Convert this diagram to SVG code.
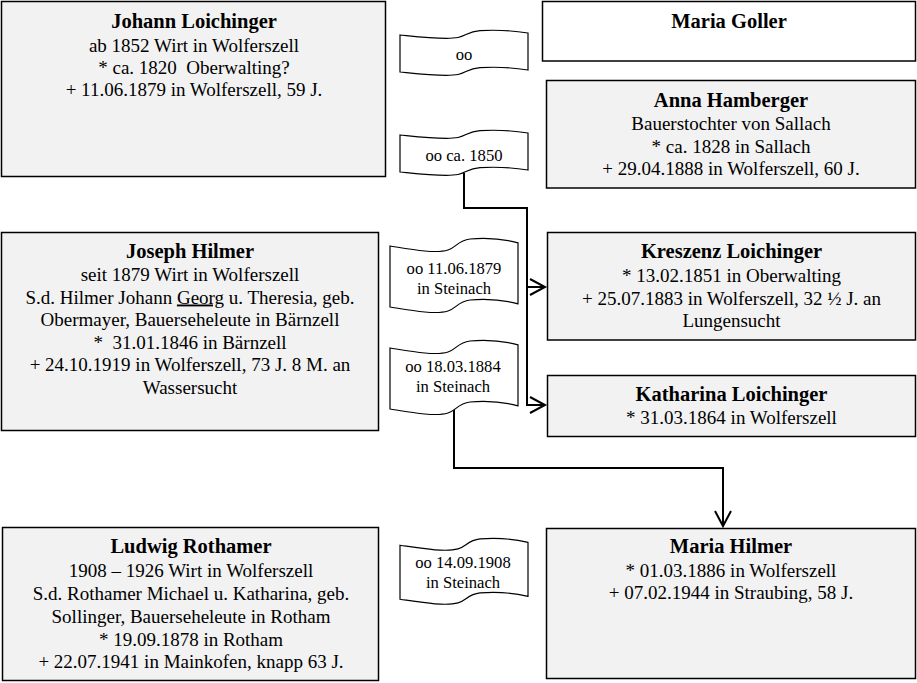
<svg xmlns="http://www.w3.org/2000/svg" width="917" height="683" viewBox="0 0 917 683">
<style>
.box{fill:#f2f2f2;stroke:#000;stroke-width:1.5}
.white{fill:#fff}
.ban{fill:#fff;stroke:#000;stroke-width:1.2}
text{font-family:"Liberation Serif","Times New Roman",serif;fill:#000;text-anchor:middle}
.t{font-size:20.5px;font-weight:bold}
.b{font-size:19px;white-space:pre}
.s{font-size:16.6px}
.con{fill:none;stroke:#000;stroke-width:2}
</style>
<defs>
<marker id="arr" viewBox="-17 -10 20 20" refX="0" refY="0" markerWidth="20" markerHeight="20" markerUnits="userSpaceOnUse" orient="auto">
<path d="M-15,-8 L0,0 L-15,8" fill="none" stroke="#000" stroke-width="2"/>
</marker>
<path id="banS" d="M0,5 C20,7 45,10 58,7.5 C66,6 68,1.5 80,0.6 C98,-0.3 116,1 128,3 L128,40 C116,38 98,36.7 80,37.6 C68,38.5 66,43 58,44.5 C45,47 20,44 0,42 Z"/>
<path id="banL" d="M0,8 C20,11.2 45,16 58,12 C66,9.6 68,2.4 80,1 C98,-0.5 116,1.6 128,4.8 L128,65.8 C116,62.6 98,60.5 80,62 C68,63.4 66,70.6 58,73 C45,77 20,72.2 0,69 Z"/>
<path id="banM" d="M0,7.25 C20,10.15 45,14.5 58,10.9 C66,8.7 68,2.2 80,0.9 C98,-0.4 116,1.45 128,4.35 L128,58.35 C116,55.45 98,53.6 80,54.9 C68,56.2 66,62.7 58,64.9 C45,68.5 20,64.15 0,61.25 Z"/>
</defs>

<g id="johann">
<rect class="box" x="1.5" y="1.5" width="384" height="175"/>
<text class="t" x="194" y="28">Johann Loichinger</text>
<text class="b" x="194" y="52">ab 1852 Wirt in Wolferszell</text>
<text class="b" x="194" y="74">* ca. 1820  Oberwalting?</text>
<text class="b" x="194" y="96">+ 11.06.1879 in Wolferszell, 59 J.</text>
</g>

<g id="maria-goller">
<rect class="box white" x="542.5" y="1.5" width="373" height="59.5"/>
<text class="t" x="729" y="28">Maria Goller</text>
</g>

<g id="anna">
<rect class="box" x="546.5" y="80.5" width="369" height="107.5"/>
<text class="t" x="731" y="107">Anna Hamberger</text>
<text class="b" x="731" y="130">Bauerstochter von Sallach</text>
<text class="b" x="731" y="152.5">* ca. 1828 in Sallach</text>
<text class="b" x="731" y="175">+ 29.04.1888 in Wolferszell, 60 J.</text>
</g>

<g id="joseph">
<rect class="box" x="1.5" y="232.5" width="377" height="198"/>
<text class="t" x="190" y="258">Joseph Hilmer</text>
<text class="b" x="190" y="281">seit 1879 Wirt in Wolferszell</text>
<text class="b" x="190" y="303.5">S.d. Hilmer Johann <tspan text-decoration="underline">Georg</tspan> u. Theresia, geb.</text>
<text class="b" x="190" y="326">Obermayer, Bauerseheleute in Bärnzell</text>
<text class="b" x="190" y="348.5">*  31.01.1846 in Bärnzell</text>
<text class="b" x="190" y="371">+ 24.10.1919 in Wolferszell, 73 J. 8 M. an</text>
<text class="b" x="190" y="393.5">Wassersucht</text>
</g>

<g id="kreszenz">
<rect class="box" x="547.5" y="232.5" width="368" height="107.5"/>
<text class="t" x="731.5" y="258">Kreszenz Loichinger</text>
<text class="b" x="731.5" y="282">* 13.02.1851 in Oberwalting</text>
<text class="b" x="731.5" y="305">+ 25.07.1883 in Wolferszell, 32 ½ J. an</text>
<text class="b" x="731.5" y="327">Lungensucht</text>
</g>

<g id="katharina">
<rect class="box" x="547.5" y="375.5" width="368" height="61"/>
<text class="t" x="731.5" y="401">Katharina Loichinger</text>
<text class="b" x="731.5" y="424">* 31.03.1864 in Wolferszell</text>
</g>

<g id="ludwig">
<rect class="box" x="2.5" y="527.5" width="376" height="153"/>
<text class="t" x="191" y="553">Ludwig Rothamer</text>
<text class="b" x="191" y="577">1908 – 1926 Wirt in Wolferszell</text>
<text class="b" x="191" y="600">S.d. Rothamer Michael u. Katharina, geb.</text>
<text class="b" x="191" y="623">Sollinger, Bauerseheleute in Rotham</text>
<text class="b" x="191" y="645.5">* 19.09.1878 in Rotham</text>
<text class="b" x="191" y="668">+ 22.07.1941 in Mainkofen, knapp 63 J.</text>
</g>

<g id="maria-hilmer">
<rect class="box" x="546.5" y="528.5" width="369" height="150"/>
<text class="t" x="731" y="553">Maria Hilmer</text>
<text class="b" x="731" y="577">* 01.03.1886 in Wolferszell</text>
<text class="b" x="731" y="599">+ 07.02.1944 in Straubing, 58 J.</text>
</g>

<g id="connectors">
<path class="con" d="M464,173 L464,208 L527,208 L527,405 L545,405" marker-end="url(#arr)"/>
<path class="con" d="M527,287 L545,287" marker-end="url(#arr)"/>
<path class="con" d="M454,404 L454,468 L723,468 L723,526" marker-end="url(#arr)"/>
</g>

<g id="m1">
<use href="#banS" class="ban" x="400" y="30"/>
<text class="s" x="464" y="60">oo</text>
</g>
<g id="m2">
<use href="#banS" class="ban" x="400" y="130"/>
<text class="s" x="464" y="161">oo ca. 1850</text>
</g>
<g id="m3">
<use href="#banL" class="ban" x="390" y="238"/>
<text class="s" x="454" y="273.5">oo 11.06.1879</text>
<text class="s" x="454" y="293.5">in Steinach</text>
</g>
<g id="m4">
<use href="#banL" class="ban" x="390" y="340"/>
<text class="s" x="453" y="372">oo 18.03.1884</text>
<text class="s" x="453" y="392">in Steinach</text>
</g>
<g id="m5">
<use href="#banM" class="ban" x="400" y="538"/>
<text class="s" x="463" y="568">oo 14.09.1908</text>
<text class="s" x="463" y="588">in Steinach</text>
</g>
</svg>
